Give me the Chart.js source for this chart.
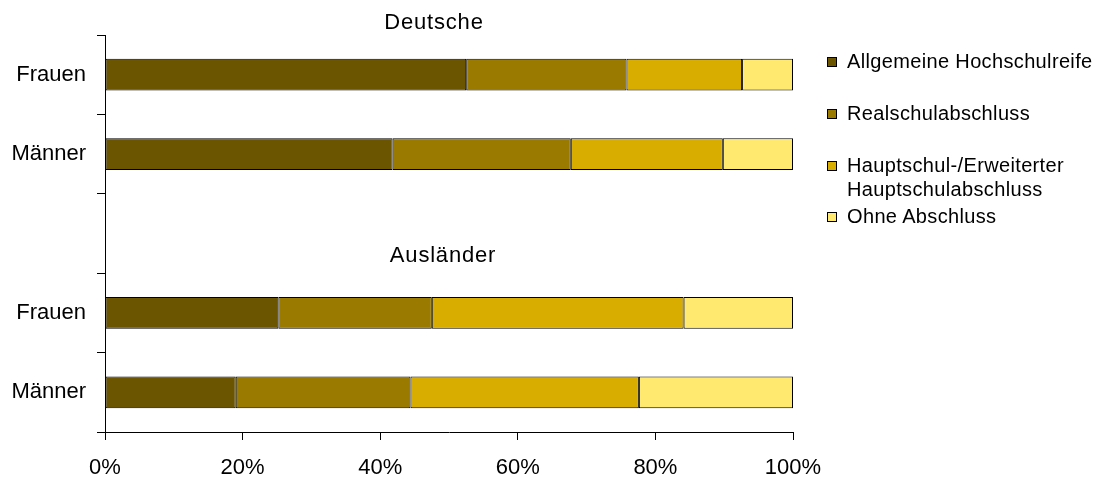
<!DOCTYPE html>
<html>
<head>
<meta charset="utf-8">
<script src="https://cdn.jsdelivr.net/npm/chart.js@4"></script>
<style>
    body { margin: 0; background: #fff; }
    #wrap { position: relative; width: 1098px; height: 479px; }
    .legend-item {
        position: absolute;
        left: 827px;
        font-family: 'Liberation Sans', Arial, sans-serif;
        font-size: 20px;
        line-height: 24px;
        letter-spacing: 0.35px;
        color: #000;
        white-space: nowrap;
    }
    .legend-item .box {
        position: absolute;
        left: 0;
        width: 8px;
        height: 8px;
        border: 1px solid #000;
    }
    .legend-item .label { margin-left: 20px; }
</style>
</head>
<body>
<div id="wrap">
    <canvas id="barChart" width="1098" height="479"></canvas>
    <div id="legend"></div>
</div>
<script>
// Chart data
const categories = ['Frauen', 'Männer', '', 'Frauen', 'Männer'];
const hochschulreife = [52.5, 41.8, null, 25.2, 19.0];
const realschule = [23.3, 25.9, null, 22.3, 25.4];
const hauptschule = [16.8, 22.1, null, 36.6, 33.2];
const ohneAbschluss = [7.4, 10.2, null, 15.9, 22.4];
const xTicks = [0, 20, 40, 60, 80, 100];
const seriesNames = ['Allgemeine Hochschulreife', 'Realschulabschluss', 'Hauptschul-/Erweiterter\nHauptschulabschluss', 'Ohne Abschluss'];
const groupTitles = ['Deutsche', 'Ausländer'];

const colors = ['#6B5500', '#9A7B00', '#D9AC00', '#FFE96F'];
const font = "'Liberation Sans', Arial, sans-serif";

document.addEventListener('DOMContentLoaded', function() {
    initChart();
    buildLegend();
});

/**
 * Group headings drawn above each block of bars
 */
const groupTitlePlugin = {
    id: 'groupTitles',
    afterDraw(chart) {
        const ctx = chart.ctx;
        const y = chart.scales.y;
        ctx.save();
        ctx.font = '22px ' + font;
        ctx.fillStyle = '#000';
        ctx.textAlign = 'center';
        ctx.textBaseline = 'alphabetic';
        ctx.letterSpacing = '0.8px';
        ctx.fillText(groupTitles[0], 434, chart.chartArea.top - 6);
        ctx.fillText(groupTitles[1], 443, y.getPixelForValue(2) + 28);
        ctx.restore();
    }
};

function makeDataset(label, data, color) {
    return {
        label: label,
        data: data,
        backgroundColor: color,
        borderColor: '#000',
        borderWidth: 1,
        borderSkipped: false,
        categoryPercentage: 1,
        barPercentage: 0.4
    };
}

function initChart() {
    const ctx = document.getElementById('barChart');

    new Chart(ctx, {
        type: 'bar',
        data: {
            labels: categories,
            datasets: [
                makeDataset(seriesNames[0], hochschulreife, colors[0]),
                makeDataset(seriesNames[1], realschule, colors[1]),
                makeDataset(seriesNames[2], hauptschule, colors[2]),
                makeDataset(seriesNames[3], ohneAbschluss, colors[3])
            ]
        },
        options: {
            indexAxis: 'y',
            responsive: false,
            animation: false,
            layout: {
                padding: { top: 35, right: 305, left: 0, bottom: 0 }
            },
            plugins: {
                legend: { display: false },
                tooltip: { enabled: false }
            },
            scales: {
                x: {
                    stacked: true,
                    min: 0,
                    max: 100,
                    afterBuildTicks: function(scale) {
                        scale.ticks = xTicks.map(v => ({ value: v }));
                    },
                    afterFit: function(scale) { scale.height = 47; },
                    grid: {
                        drawOnChartArea: false,
                        drawTicks: true,
                        tickLength: 8,
                        color: '#000'
                    },
                    border: { color: '#000', width: 1 },
                    ticks: {
                        color: '#000',
                        padding: 15,
                        maxRotation: 0,
                        font: { family: font, size: 22 },
                        callback: function(v) { return v + '%'; }
                    }
                },
                y: {
                    stacked: true,
                    offset: true,
                    afterFit: function(scale) { scale.width = 105; },
                    grid: {
                        offset: true,
                        drawOnChartArea: false,
                        drawTicks: true,
                        tickLength: 8,
                        color: '#000'
                    },
                    border: { color: '#000', width: 1 },
                    ticks: {
                        color: '#000',
                        padding: 11,
                        font: { family: font, size: 22 }
                    }
                }
            }
        },
        plugins: [groupTitlePlugin]
    });
}

/**
 * HTML legend on the right side
 */
function buildLegend() {
    const legend = document.getElementById('legend');
    // baseline of first text line for each entry
    const baselines = [67, 119, 171, 222];
    seriesNames.forEach((name, i) => {
        const item = document.createElement('div');
        item.className = 'legend-item';
        item.style.top = (baselines[i] - 18.4) + 'px';

        const box = document.createElement('span');
        box.className = 'box';
        box.style.background = colors[i];
        box.style.top = '8px';
        item.appendChild(box);

        const label = document.createElement('div');
        label.className = 'label';
        label.innerHTML = name.split('\n').join('<br>');
        item.appendChild(label);

        legend.appendChild(item);
    });
}
</script>
</body>
</html>
